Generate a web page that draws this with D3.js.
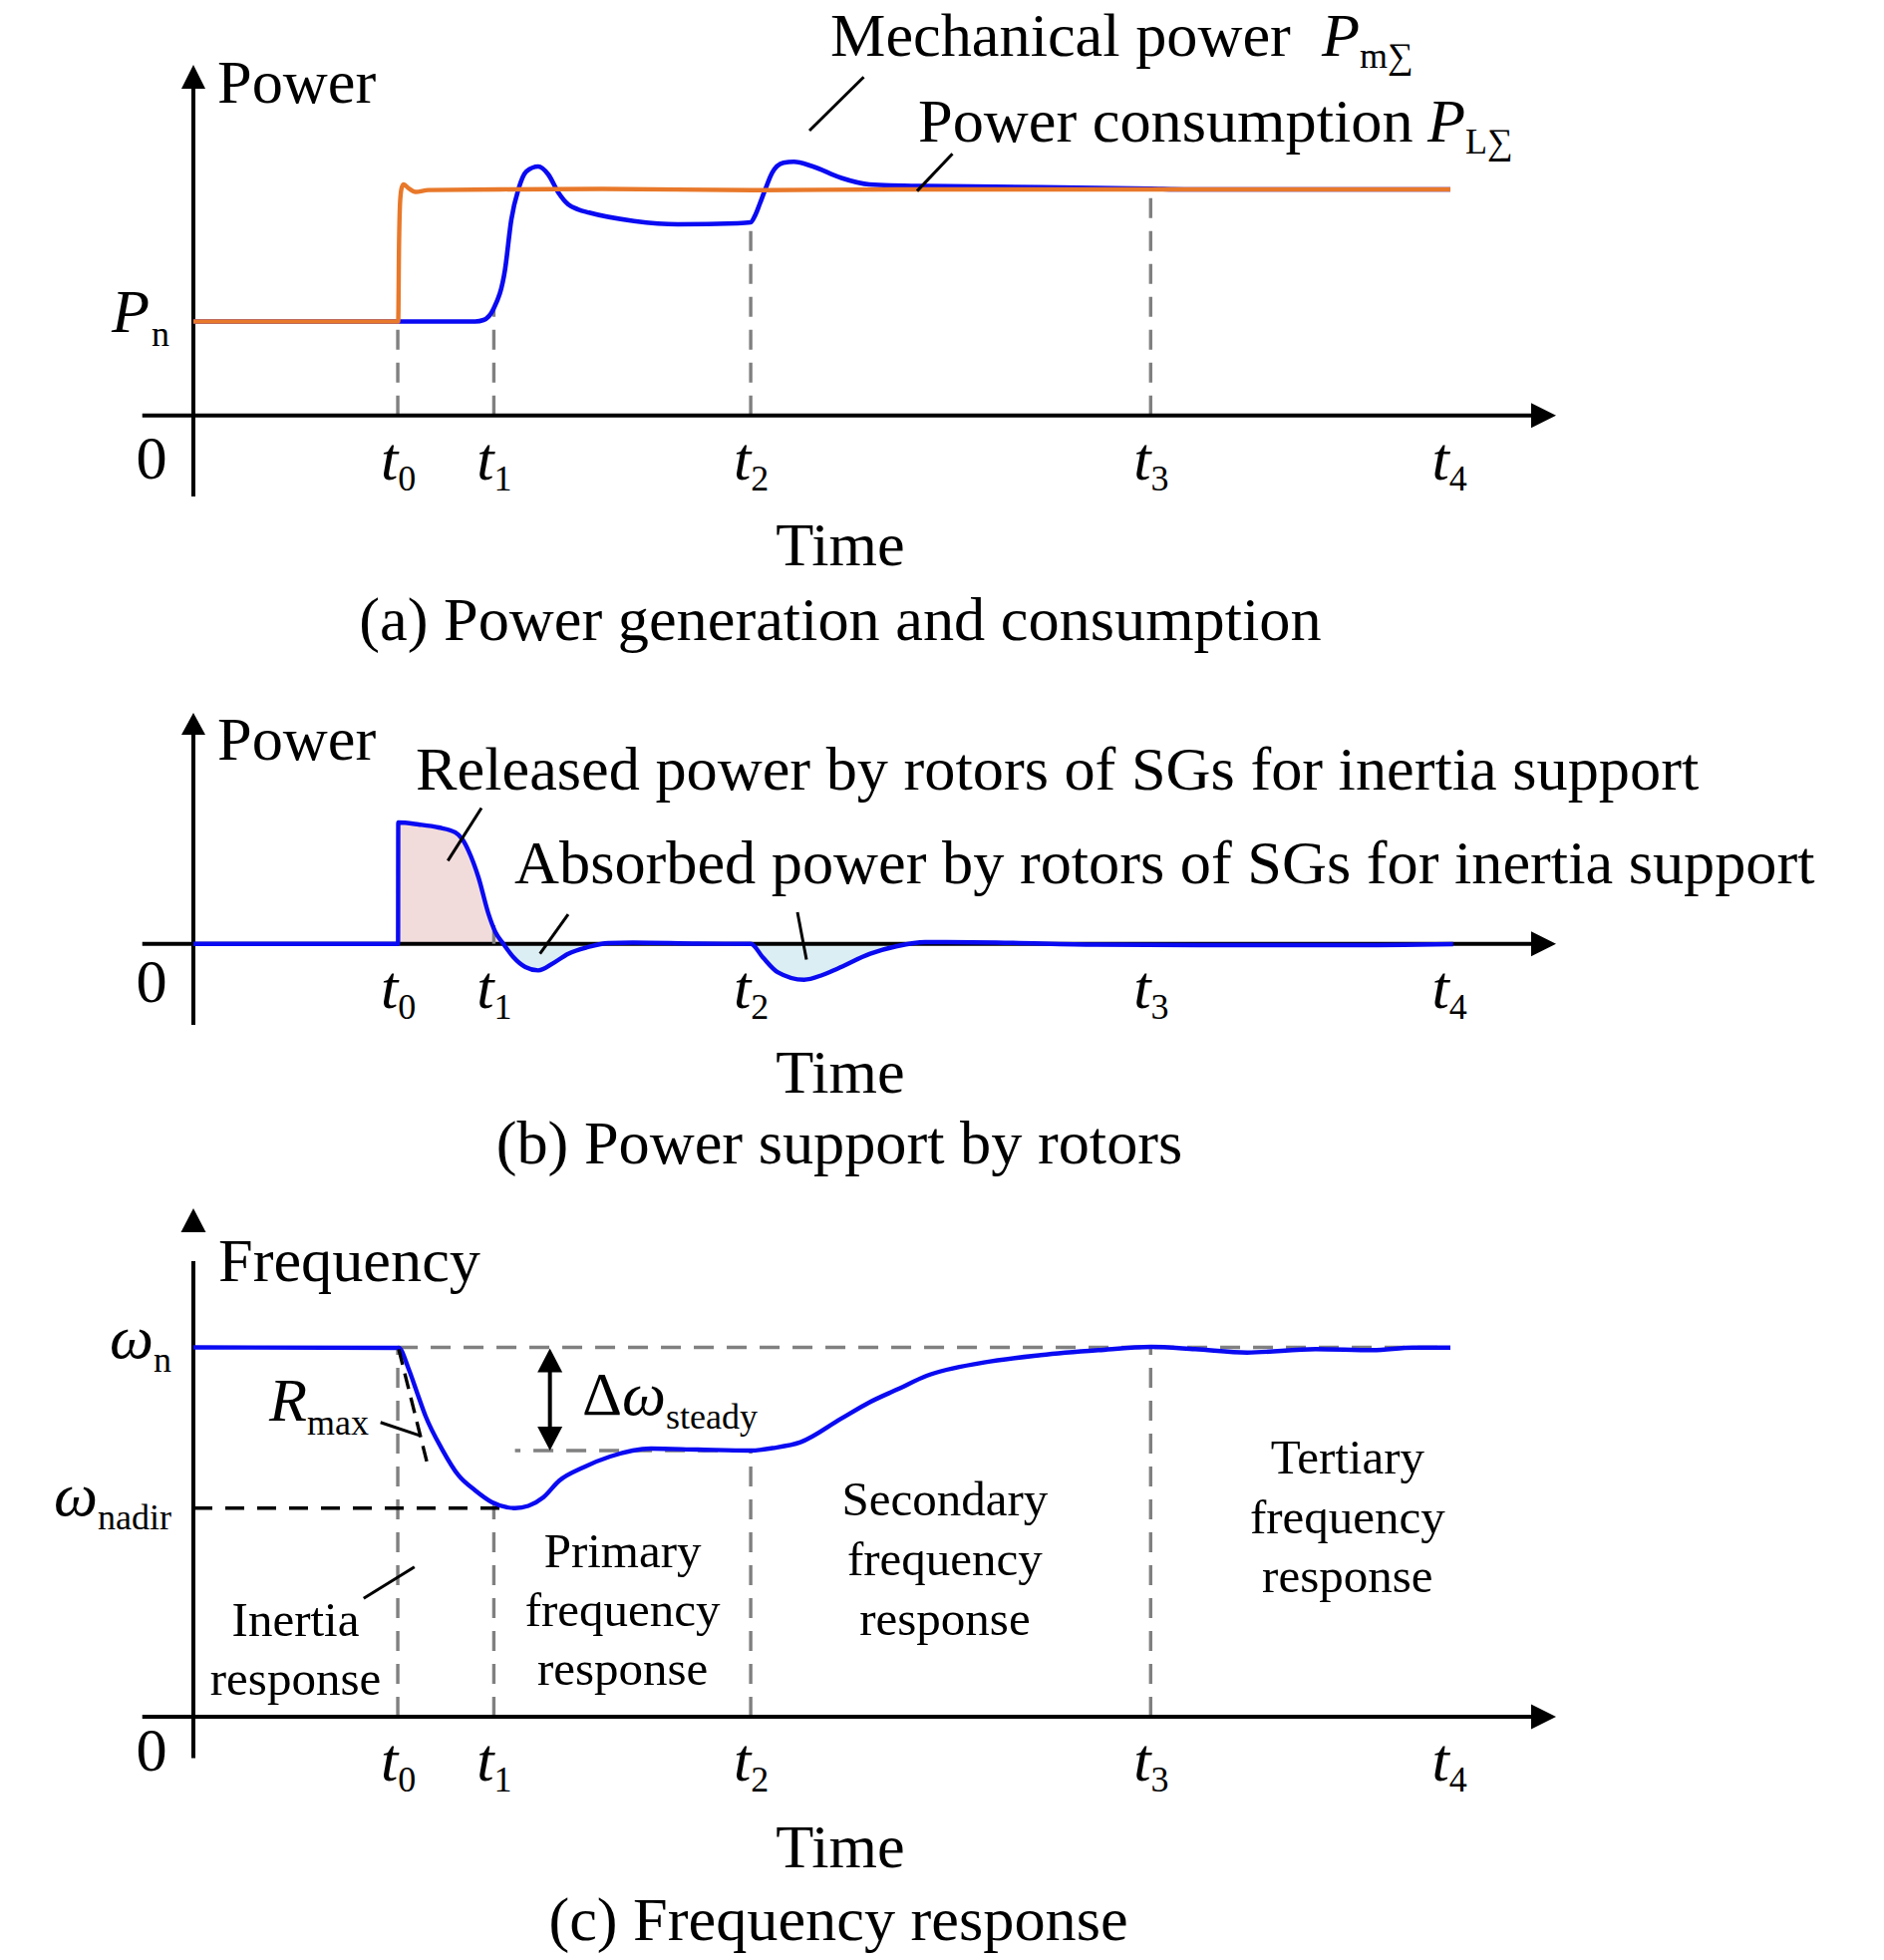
<!DOCTYPE html>
<html><head><meta charset="utf-8">
<script src="https://cdn.jsdelivr.net/npm/d3@7"></script>
<style>
body{margin:0;background:#fff}
svg{display:block;background:#fff}
text{font-family:"Liberation Serif","Times New Roman",Times,serif;fill:#000}
</style>
</head><body>
<svg id="chart" width="1890" height="1966"></svg>
<script>
// ================= DATA =================
const tickNames = ["0", "1", "2", "3", "4"];          // t0 ... t4
const tickTimes = [3.0, 4.41, 8.18, 14.05, 18.43];   // time positions of t0..t4

// (a) power consumption P_LΣ (orange) : [time, p.u. power]
const loadPower = [[0,1],[3.006,1],[3.018,1.8],[3.036,2.3],[3.06,2.43],[3.087,2.46],[3.16,2.418],
  [3.26,2.38],[3.45,2.40],[4.5,2.407],[6.0,2.412],[8.2,2.398],[10.3,2.407],[18.45,2.407]];
// (a) mechanical power P_mΣ (blue)
const mechPower = [[0,1],[4.136,1],[4.258,1.016],[4.404,1.133],[4.575,1.557],[4.667,2.088],[4.770,2.407],
  [4.887,2.598],[5.062,2.651],[5.209,2.566],[5.355,2.375],[5.501,2.247],[5.647,2.194],[5.808,2.159],
  [6.467,2.070],[7.110,2.035],[7.988,2.046],[8.178,2.056],[8.252,2.141],[8.310,2.247],[8.394,2.407],
  [8.494,2.584],[8.661,2.690],[8.813,2.701],[9.083,2.654],[9.503,2.531],[9.922,2.460],[10.762,2.442],
  [12.442,2.431],[14.054,2.414],[14.543,2.407],[18.449,2.407]];
// (b) rotor power support
const rotorPower = [[0,0],[3.004,0],[3.007,1.0],[3.306,0.984],[3.599,0.959],[3.843,0.918],[3.950,0.860],
  [4.038,0.767],[4.184,0.548],[4.331,0.247],[4.433,0.096],[4.550,0],[4.696,-0.109],[4.872,-0.191],
  [5.062,-0.219],[5.282,-0.159],[5.501,-0.082],[5.794,-0.027],[6.086,0.006],[6.452,0.010],[7.403,0.002],
  [8.183,0],[8.354,-0.109],[8.574,-0.233],[8.964,-0.296],[9.232,-0.257],[9.452,-0.205],[9.934,-0.082],
  [10.33,-0.019],[10.74,0.014],[11.79,0.010],[13.26,-0.007],[15.45,-0.011],[16.91,-0.011],[18.49,-0.002]];
// (c) frequency (p.u. of ω_n)
const frequency = [[0,1],[3.014,0.9987],[3.160,0.9412],[3.282,0.878],[3.405,0.8151],[3.647,0.7252],
  [3.892,0.6532],[4.136,0.6127],[4.379,0.5811],[4.721,0.5649],[4.916,0.5709],[5.135,0.5938],
  [5.369,0.6389],[5.72,0.6748],[6.116,0.7045],[6.715,0.7260],[7.403,0.7233],[8.178,0.7206],[8.50,0.7274],
  [8.910,0.7431],[9.503,0.8065],[9.920,0.8510],[10.344,0.8873],[10.762,0.9231],[11.602,0.959],[12.436,0.979],
  [13.282,0.9924],[14.054,1.0013],[14.704,0.9951],[15.465,0.986],[16.474,0.9951],[17.308,0.9924],
  [17.902,0.9995],[18.449,0.9995]];
const freqLevels = [1.0, 0.7206, 0.5649];   // ω_n, steady, ω_nadir
const nadirTime = 4.721;
const steadyStart = 4.72;
const rocofTangent = [[3.014,0.9951],[3.428,0.6891]];

const regionLabels = [
  {lines:["Inertia","response"], t:1.5},
  {lines:["Primary","frequency","response"], t:6.3},
  {lines:["Secondary","frequency","response"], t:11.03},
  {lines:["Tertiary","frequency","response"], t:16.94}
];

// ================= SCALES =================
const x  = d3.scaleLinear().domain([0, 20]).range([194, 1561]);
const yA = d3.scaleLinear().domain([0, 1]).range([416.7, 322.5]);
const yB = d3.scaleLinear().domain([0, 1]).range([946.7, 825]);
const yC = d3.scaleLinear().domain([0, 1]).range([1722, 1351.5]);

const BLUE = "#0a0af2", ORANGE = "#e8782a", GRAY = "#808080";
const FS = 62.3, SUB = 36, RFS = 49;
const svg = d3.select("#chart");

// ================= HELPERS =================
function seg(g, x1, y1, x2, y2, stroke, w, dash) {
  const l = g.append("line").attr("x1", x1).attr("y1", y1).attr("x2", x2).attr("y2", y2)
    .attr("stroke", stroke).attr("stroke-width", w);
  if (dash) l.attr("stroke-dasharray", dash);
  return l;
}
function tri(g, tx, ty, dir, len, wid) {
  let p;
  const h = wid / 2;
  if (dir === "up") p = [[tx, ty], [tx - h, ty + len], [tx + h, ty + len]];
  else if (dir === "down") p = [[tx, ty], [tx - h, ty - len], [tx + h, ty - len]];
  else p = [[tx, ty], [tx - len, ty - h], [tx - len, ty + h]];
  g.append("path").attr("d", "M" + p.map(q => q.join(",")).join("L") + "Z").attr("fill", "#000");
}
function xAxis(g, y) {
  seg(g, x(-0.75), y(0), x(20) - 20, y(0), "#000", 4);
  tri(g, x(20), y(0), "right", 25, 25);
}
function timeTicks(g, y) {
  const ax = d3.axisBottom(x).tickValues(tickTimes).tickSize(0).tickFormat("");
  const a = g.append("g").attr("transform", `translate(0,${y(0)})`).call(ax);
  a.select(".domain").remove();
  a.selectAll(".tick text").attr("y", 64).attr("dy", null)
    .attr("font-size", FS).attr("font-family", "Liberation Serif, Times New Roman, serif").attr("fill", "#000")
    .each(function (d, i) {
      const t = d3.select(this);
      t.append("tspan").attr("font-style", "italic").text("t");
      t.append("tspan").attr("font-size", SUB).attr("dy", 11).text(tickNames[i]);
    });
}
function label(g, px, py, parts, anchor) {
  const t = g.append("text").attr("x", px).attr("y", py).attr("font-size", FS);
  if (anchor) t.attr("text-anchor", anchor);
  let shift = 0;
  parts.forEach(p => {
    const s = t.append("tspan").text(p.t);
    if (p.i) s.attr("font-style", "italic");
    if (p.sub) { s.attr("font-size", SUB).attr("dy", p.sub - shift); shift = p.sub; }
    else if (shift) { s.attr("dy", -shift); shift = 0; }
    if (p.dx) s.attr("dx", p.dx);
  });
  return t;
}
const lineGen = (y) => d3.line().x(d => x(d[0])).y(d => y(d[1])).curve(d3.curveMonotoneX);
function vDash(g, y, t, top) {
  seg(g, x(t), y(0), x(t), y(top), GRAY, 3.4, "20,13");
}

// ================= PANEL (a) =================
const ga = svg.append("g");
vDash(ga, yA, tickTimes[0], 1.0);
vDash(ga, yA, tickTimes[1], 1.133);
vDash(ga, yA, tickTimes[2], 2.056);
vDash(ga, yA, tickTimes[3], 2.407);
xAxis(ga, yA);
seg(ga, x(0), yA(-0.863), x(0), yA(3.734) + 20, "#000", 4);
tri(ga, x(0), yA(3.734), "up", 24, 24);
ga.append("path").datum(mechPower).attr("d", lineGen(yA)).attr("fill", "none")
  .attr("stroke", BLUE).attr("stroke-width", 4.6).attr("stroke-linejoin", "round");
ga.append("path").datum(loadPower).attr("d", lineGen(yA)).attr("fill", "none")
  .attr("stroke", ORANGE).attr("stroke-width", 4.4).attr("stroke-linejoin", "round");
timeTicks(ga, yA);
ga.append("text").attr("x", 152).attr("y", yA(0) + 63).attr("text-anchor", "middle").attr("font-size", FS).text("0");
label(ga, 218, 103, [{t: "Power"}]);
label(ga, 112, 333, [{t: "P", i: 1}, {t: "n", sub: 14, dx: 2}]);
label(ga, 833, 56, [{t: "Mechanical power"}]);
label(ga, 1326, 56, [{t: "P", i: 1}, {t: "m∑", sub: 12}]);
label(ga, 921, 142, [{t: "Power consumption"}]);
label(ga, 1432, 142, [{t: "P", i: 1}, {t: "L∑", sub: 12}]);
seg(ga, x(9.839), yA(3.603), x(9.042), yA(3.033), "#000", 3);
seg(ga, x(11.141), yA(2.786), x(10.622), yA(2.389), "#000", 3);
label(ga, 843, 567, [{t: "Time"}], "middle");
label(ga, 843, 642, [{t: "(a) Power generation and consumption"}], "middle");

// ================= PANEL (b) =================
const gb = svg.append("g");
const areaB = d3.area().x(d => x(d[0])).y0(yB(0)).y1(d => yB(d[1])).curve(d3.curveMonotoneX);
const defs = svg.append("defs");
defs.append("clipPath").attr("id", "above").append("rect")
  .attr("x", x(0)).attr("y", yB(1.5)).attr("width", x(20) - x(0)).attr("height", yB(0) - yB(1.5));
defs.append("clipPath").attr("id", "below").append("rect")
  .attr("x", x(0)).attr("y", yB(0)).attr("width", x(20) - x(0)).attr("height", yB(-0.6) - yB(0));
gb.append("path").datum(rotorPower).attr("d", areaB).attr("fill", "#f2dcdb").attr("clip-path", "url(#above)");
gb.append("path").datum(rotorPower).attr("d", areaB).attr("fill", "#dbeef4").attr("clip-path", "url(#below)");
xAxis(gb, yB);
seg(gb, x(0), yB(-0.668), x(0), yB(1.904) + 20, "#000", 4);
tri(gb, x(0), yB(1.904), "up", 22, 24);
seg(gb, x(tickTimes[1]), yB(0), x(tickTimes[1]), yB(0.154), GRAY, 3.4);
gb.append("path").datum(rotorPower).attr("d", lineGen(yB)).attr("fill", "none")
  .attr("stroke", BLUE).attr("stroke-width", 4.4).attr("stroke-linejoin", "round");
timeTicks(gb, yB);
gb.append("text").attr("x", 152).attr("y", yB(0) + 58).attr("text-anchor", "middle").attr("font-size", FS).text("0");
label(gb, 218, 762, [{t: "Power"}]);
label(gb, 417, 792, [{t: "Released power by rotors of SGs for inertia support"}]);
label(gb, 516, 886, [{t: "Absorbed power by rotors of SGs for inertia support"}]);
seg(gb, x(4.228), yB(1.119), x(3.735), yB(0.685), "#000", 3);
seg(gb, x(5.501), yB(0.242), x(5.087), yB(-0.082), "#000", 3);
seg(gb, x(8.866), yB(0.260), x(8.998), yB(-0.130), "#000", 3);
label(gb, 843, 1096, [{t: "Time"}], "middle");
label(gb, 842, 1167, [{t: "(b) Power support by rotors"}], "middle");

// ================= PANEL (c) =================
const gc = svg.append("g");
seg(gc, x(tickTimes[0]), yC(freqLevels[0]), x(tickTimes[4]), yC(freqLevels[0]), GRAY, 3.4, "20,13");
seg(gc, x(tickTimes[2]), yC(freqLevels[1]), x(steadyStart), yC(freqLevels[1]), GRAY, 3.4, "20,13");
vDash(gc, yC, tickTimes[0], freqLevels[0]);
vDash(gc, yC, tickTimes[1], 0.583);
vDash(gc, yC, tickTimes[2], freqLevels[1]);
vDash(gc, yC, tickTimes[3], freqLevels[0]);
seg(gc, x(0), yC(freqLevels[2]), x(nadirTime), yC(freqLevels[2]), "#000", 3.6, "19,13");
xAxis(gc, yC);
seg(gc, x(0), yC(-0.112), x(0), yC(1.2335), "#000", 4);
tri(gc, x(0), yC(1.3765), "up", 24, 25);
gc.append("path").datum(frequency).attr("d", lineGen(yC)).attr("fill", "none")
  .attr("stroke", BLUE).attr("stroke-width", 4.4).attr("stroke-linejoin", "round");
seg(gc, x(rocofTangent[0][0]), yC(rocofTangent[0][1]), x(rocofTangent[1][0]), yC(rocofTangent[1][1]), "#000", 3.4, "16,9");
const ax_t = 5.233;
seg(gc, x(ax_t), yC(freqLevels[0]) + 20, x(ax_t), yC(freqLevels[1]) - 20, "#000", 4);
tri(gc, x(ax_t), yC(freqLevels[0]) + 1, "up", 24, 25);
tri(gc, x(ax_t), yC(freqLevels[1]), "down", 24, 25);
seg(gc, x(2.746), yC(0.797), x(3.331), yC(0.761), "#000", 3);
seg(gc, x(3.245), yC(0.4057), x(2.499), yC(0.3204), "#000", 3);
timeTicks(gc, yC);
gc.append("text").attr("x", 152).attr("y", yC(0) + 54).attr("text-anchor", "middle").attr("font-size", FS).text("0");
label(gc, 219, 1285, [{t: "Frequency"}]);
label(gc, 110, 1362, [{t: "ω", i: 1}, {t: "n", sub: 14}]);
label(gc, 54, 1520, [{t: "ω", i: 1}, {t: "nadir", sub: 14}]);
label(gc, 270, 1425, [{t: "R", i: 1}, {t: "max", sub: 14}]);
label(gc, 584, 1419, [{t: "Δ"}, {t: "ω", i: 1}, {t: "steady", sub: 14}]);
const regionBase = [[1641, 1700], [1572, 1631, 1690], [1520, 1580, 1640], [1478, 1538, 1597]];
regionLabels.forEach((r, k) => {
  r.lines.forEach((s, j) => {
    gc.append("text").attr("x", x(r.t)).attr("y", regionBase[k][j]).attr("text-anchor", "middle")
      .attr("font-size", RFS).text(s);
  });
});
label(gc, 843, 1873, [{t: "Time"}], "middle");
label(gc, 841, 1946, [{t: "(c) Frequency response"}], "middle");
</script>
</body></html>
